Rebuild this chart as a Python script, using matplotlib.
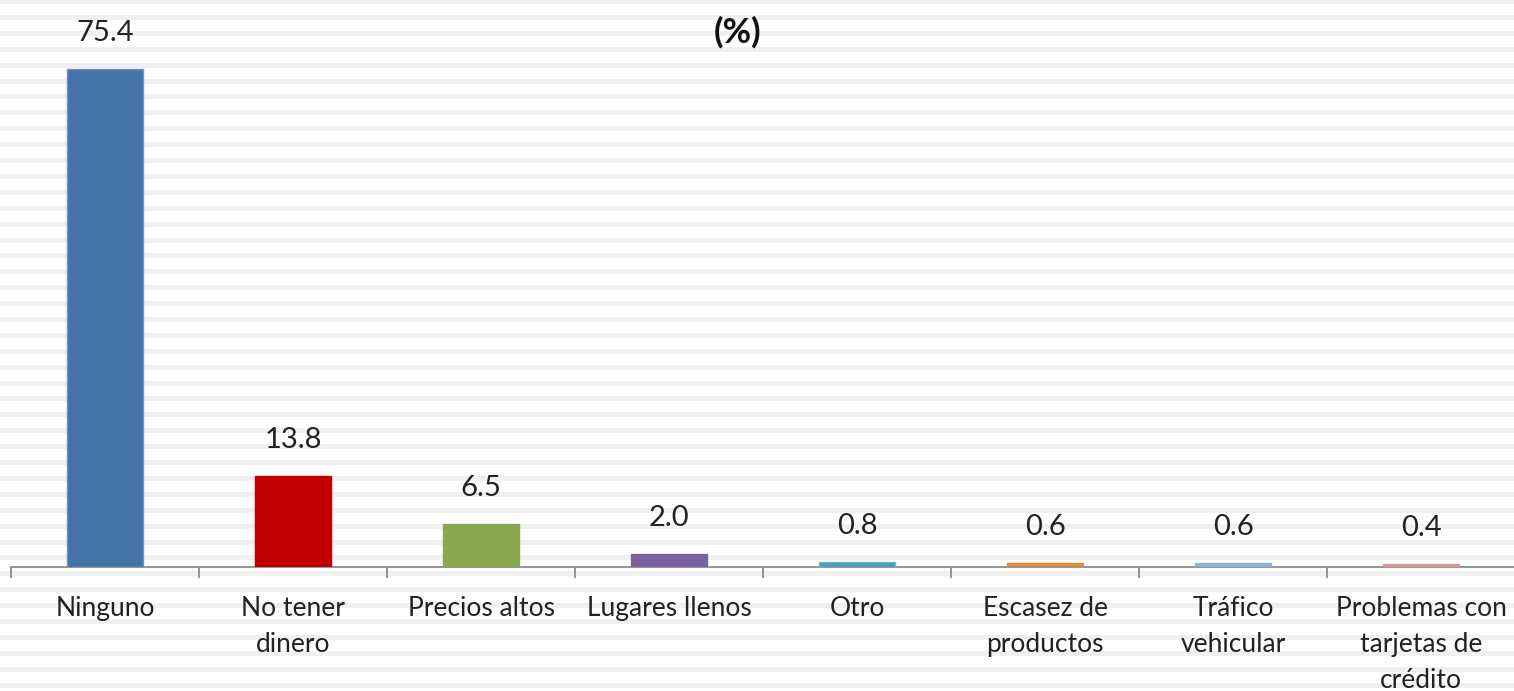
import matplotlib
matplotlib.use("Agg")
import matplotlib.pyplot as plt
from matplotlib.patches import Rectangle

# Data
categories = ["Ninguno", "No tener\ndinero", "Precios altos", "Lugares llenos", "Otro",
              "Escasez de\nproductos", "Tráfico\nvehicular", "Problemas con\ntarjetas de\ncrédito"]
values = [75.4, 13.8, 6.5, 2.0, 0.8, 0.6, 0.6, 0.4]
colors = ["#4572A7", "#C00000", "#8BA84E", "#7A62A0", "#4A9DB3", "#E2893D", "#95B0D8", "#D99694"]
edge_colors = ["#6F94C4", "#C00000", "#8BA84E", "#7A62A0", "#6FB6C9", "#E2893D", "#95B0D8", "#D99694"]
title = "(%)"

W, H, DPI = 1514, 691, 100
plt.rcParams["font.family"] = ["Lato", "DejaVu Sans"]

fig = plt.figure(figsize=(W / DPI, H / DPI), dpi=DPI)
fig.patch.set_facecolor("white")

# striped background
period, band = 15.9, 5.0
y = -1.0
while y < H:
    fig.add_artist(Rectangle((0, 1 - (y + band) / H), 1, band / H,
                             transform=fig.transFigure, facecolor="#F0F0F0",
                             edgecolor="none", zorder=-10))
    y += period

px_per_unit = 498 / 75.4
ymax = 80
left, right = 11 / W, 1515 / W
bottom = (H - 567) / H
height = ymax * px_per_unit / H
ax = fig.add_axes([left, bottom, right - left, height])
ax.set_facecolor("none")

x = range(len(values))
bars = ax.bar(x, values, width=0.405, color=colors, edgecolor=edge_colors, linewidth=1, zorder=3)

for b, v in zip(bars, values):
    ax.annotate(f"{v:.1f}", (b.get_x() + b.get_width() / 2, v),
                xytext=(0, 36), textcoords="offset pixels",
                ha="center", va="center", fontsize=21, color="#222222")

ax.set_xlim(-0.5, len(values) - 0.5)
ax.set_ylim(0, ymax)
ax.set_yticks([])
for s in ["top", "right", "left"]:
    ax.spines[s].set_visible(False)
ax.spines["bottom"].set_color("#8C8C8C")
ax.spines["bottom"].set_linewidth(1.3)

ax.set_xticks(list(x))
ax.set_xticklabels(categories, fontsize=19, color="#222222", linespacing=1.55)
ax.tick_params(axis="x", which="major", length=0, pad=21)
ax.set_xticks([i - 0.5 for i in range(len(values) + 1)], minor=True)
ax.tick_params(axis="x", which="minor", length=8, width=1.3, color="#8C8C8C", direction="out")

fig.text(738 / W, 1 - 32 / H, title, ha="center", va="center",
         fontsize=25, fontweight="bold", color="#111111")

fig.savefig("out.png", dpi=DPI)
